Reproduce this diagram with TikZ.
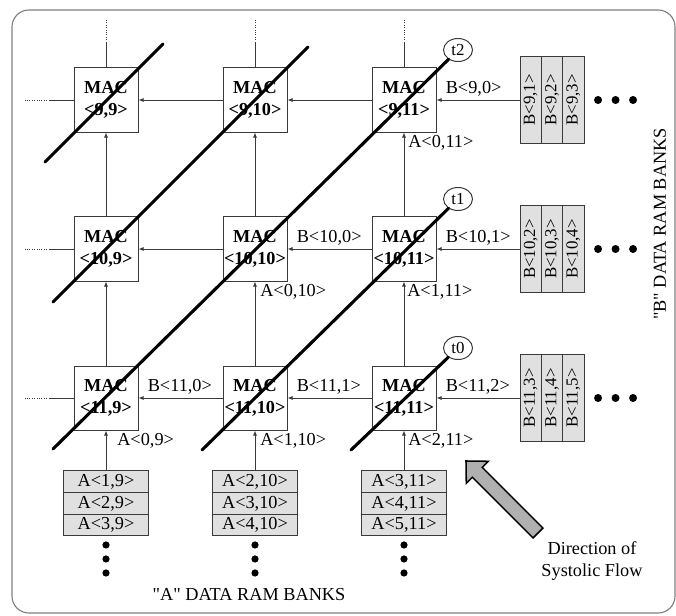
\documentclass[tikz,border=0pt]{standalone}
\usepackage{fontspec}
\setmainfont{Liberation Serif}
\usetikzlibrary{arrows.meta, positioning, calc, shapes.geometric}
\definecolor{lnc}{HTML}{3A3A3A}
\definecolor{bankc}{HTML}{E0E0E0}
\definecolor{flowc}{HTML}{B0B0B0}

\begin{document}
\begin{tikzpicture}[>={Latex[length=3.6pt,width=3pt]}, x=0.025cm, y=-0.025cm,
      font=\fontsize{13}{16}\selectfont,
      mac/.style={draw=lnc, fill=white, line width=0.7pt, minimum size=1.6cm,
                  inner sep=0pt, align=center, font=\fontsize{13}{16}\selectfont\bfseries},
      acell/.style={draw=lnc, fill=bankc, line width=0.7pt, minimum width=2.125cm,
                    minimum height=0.5417cm, inner sep=0pt, outer sep=0pt},
      bcell/.style={draw=lnc, fill=bankc, line width=0.7pt, minimum width=0.5333cm,
                    minimum height=2.15cm, inner sep=0pt, outer sep=0pt,
                    font=\fontsize{12}{14}\selectfont},
      tag/.style={ellipse, draw=lnc, fill=white, line width=0.7pt, minimum width=0.725cm,
                  minimum height=0.575cm, inner sep=0pt, font=\fontsize{12}{14}\selectfont},
      lbl/.style={inner sep=0pt, anchor=west},
      ln/.style={draw=lnc, line width=0.7pt},
      ar/.style={->, draw=lnc, line width=0.7pt},
      diag/.style={line width=2.2pt, line cap=round}]
    \useasboundingbox (0,0) rectangle (676,616);
    \draw[gray, line width=0.8pt, rounded corners=12] (12,10) rectangle (675,613);
    % MAC array
    \foreach \i in {9,10,11}{
      \foreach \j in {9,10,11}{
        \node[mac] (m\i-\j) at ({106+149*(\j-9)},{100+149*(\i-9)}) {MAC\\<\i,\j>};}}
    \foreach \i in {9,10,11}{
      \draw[ar] (m\i-10.west) -- (m\i-9.east);
      \draw[ar] (m\i-11.west) -- (m\i-10.east);
      \draw[ln] (m\i-9.west) -- ++(-24,0) coordinate (lf\i);
      \draw[ln, densely dotted] (lf\i) -- ++(-24,0);}
    \foreach \j in {9,10,11}{
      \draw[ar] (m10-\j.north) -- (m9-\j.south);
      \draw[ar] (m11-\j.north) -- (m10-\j.south);
      \draw[ln] (m9-\j.north) -- ++(0,-25) coordinate (up\j);
      \draw[ln, densely dotted] (up\j) -- ++(0,-22);}
    % "A" banks
    \foreach \j/\ka/\kb/\kc in {9/1/2/3, 10/2/3/4, 11/3/4/5}{
      \node[acell] (a\j-1) at ({106+149*(\j-9)},481.8) {A<\ka,\j>};
      \node[acell, below=0pt of a\j-1] (a\j-2) {A<\kb,\j>};
      \node[acell, below=0pt of a\j-2] (a\j-3) {A<\kc,\j>};
      \draw[ar] (a\j-1.north) -- (m11-\j.south);
      \foreach \d in {1,2,3}
        \fill ($(a\j-3.south)+(0,{-5+14*\d})$) circle[radius=0.09cm];}
    % "B" banks
    \foreach \i/\ka/\kb/\kc in {9/1/2/3, 10/2/3/4, 11/3/4/5}{
      \node[bcell] (b\i-1) at (530.7,{100+149*(\i-9)}) {\rotatebox{90}{B<\i,\ka>}};
      \node[bcell, right=0pt of b\i-1] (b\i-2) {\rotatebox{90}{B<\i,\kb>}};
      \node[bcell, right=0pt of b\i-2] (b\i-3) {\rotatebox{90}{B<\i,\kc>}};
      \draw[ar] (b\i-1.west) -- (m\i-11.east);
      \foreach \d in {1,2,3}
        \fill ($(b\i-3.east)+({-3.5+17.5*\d},0)$) circle[radius=0.1cm];}
    % labels on the links
    \foreach \i/\j/\t in {9/11/{B<9,0>}, 10/10/{B<10,0>}, 10/11/{B<10,1>},
                          11/9/{B<11,0>}, 11/10/{B<11,1>}, 11/11/{B<11,2>}}
      \node[lbl] (lb\i-\j) at ($(m\i-\j.east)+(9,-11)$) {\t};
    \foreach \i/\j/\t/\o in {9/11/{A<0,11>}/4, 10/10/{A<0,10>}/5, 10/11/{A<1,11>}/3,
                             11/9/{A<0,9>}/11, 11/10/{A<1,10>}/5, 11/11/{A<2,11>}/4}
      \node[lbl] (la\i-\j) at ($(m\i-\j.south)+(\o,10)$) {\t};
    % wavefronts
    \node[tag] (t2) at ($(m9-11)+(54,-50)$) {t2};
    \node[tag] (t1) at ($(m10-11)+(54,-50)$) {t1};
    \node[tag] (t0) at ($(m11-11)+(54,-50)$) {t0};
    \coordinate (w0) at ($(m9-9)+(-61,62)$);
    \coordinate (e0) at ($(m9-9)+(57,-56)$);
    \coordinate (w1) at ($(m10-9)+(-53,53)$);
    \coordinate (e1) at ($(m9-10)+(53,-53)$);
    \coordinate (w2) at ($(m11-9)+(-53,51)$);
    \coordinate (w3) at ($(m11-10)+(-53,52)$);
    \coordinate (w4) at ($(m11-11)+(-53,52)$);
    \draw[diag] (w0) -- (e0);
    \draw[diag] (w1) -- (e1);
    \draw[diag] (w2) -- (t2);
    \draw[diag] (w3) -- (t1);
    \draw[diag] (w4) -- (t0);
    % flow arrow
    \draw[fill=flowc, line width=1.1pt, line join=miter]
      (466,461) -- (488.3,461.3) -- (482.25,467.35) -- (542.95,528.05)
      -- (533.05,537.95) -- (472.35,477.25) -- (466.3,483.3) -- cycle;
    \node[align=center, inner sep=0pt] (flow) at (592,561) {Direction of\\Systolic Flow};
    \node (abanks) at (249,595) {\textquotedbl A\textquotedbl{} DATA RAM BANKS};
    \node[rotate=90] (bbanks) at (660,224) {\textquotedbl B\textquotedbl{} DATA RAM BANKS};
\end{tikzpicture}
\end{document}
